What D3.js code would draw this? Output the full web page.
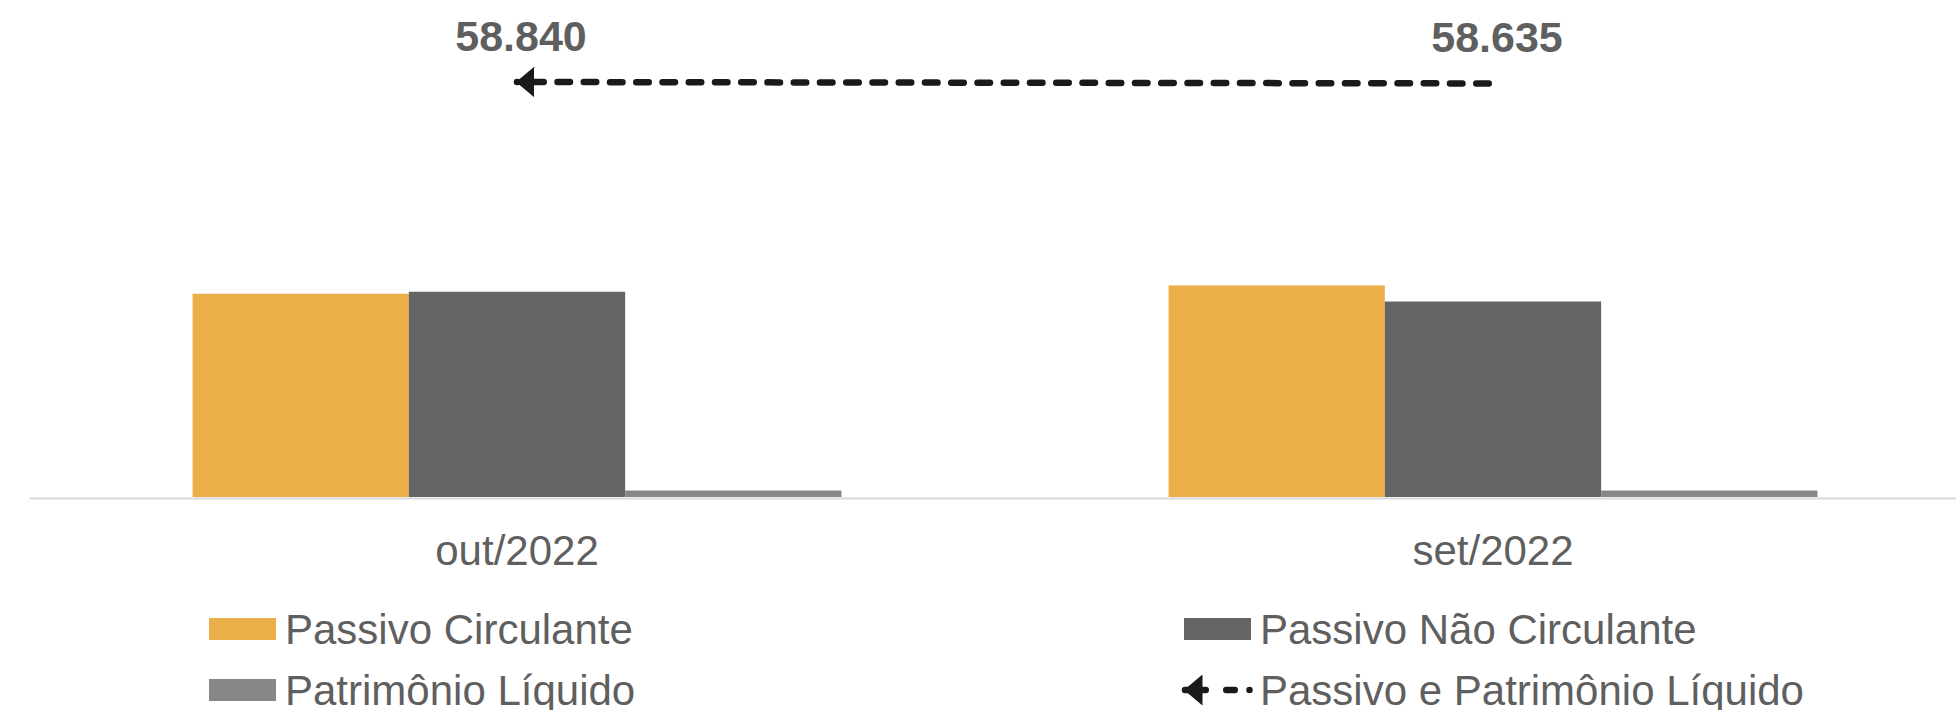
<!DOCTYPE html>
<html>
<head>
<meta charset="utf-8">
<script src="https://cdn.jsdelivr.net/npm/d3@7"></script>
<style>
  body { margin: 0; background: #fff; }
  text { font-family: "Liberation Sans", Arial, sans-serif; }
</style>
</head>
<body>
<div id="chart"></div>
<script>
// data
const categories = ["out/2022", "set/2022"];
const seriesNames = ["Passivo Circulante", "Passivo Não Circulante", "Patrimônio Líquido"];
const passivoCirculante = [28820, 30000];
const passivoNaoCirculante = [29100, 27715];
const patrimonioLiquido = [920, 920];
const totalPassivoPL = [58840, 58635];
const lineName = "Passivo e Patrimônio Líquido";

const colors = ["#EAAF48", "#646464", "#878787"];
const textColor = "#5f5f5f";
const lineColor = "#1a1a1a";

const width = 1956, height = 710;

const svg = d3.select("#chart")
    .append("svg")
    .attr("width", width)
    .attr("height", height);

const ptBR = d3.formatLocale({decimal: ",", thousands: ".", grouping: [3], currency: ["R$ ", ""]});
const fmt = ptBR.format(",.0f");

// scales
const x0 = d3.scaleBand()
    .domain(categories)
    .range([29, 1981])
    .padding(0);

const x1 = d3.scaleBand()
    .domain(seriesNames)
    .range([0, x0.bandwidth()])
    .paddingInner(0)
    .paddingOuter(0.756);

const baseY = 497;
const y = d3.scaleLinear()
    .domain([0, 60000])
    .range([baseY, baseY - 60000 * 415 / 58840]);

const rows = categories.map((c, i) => ({
    cat: c,
    values: [passivoCirculante[i], passivoNaoCirculante[i], patrimonioLiquido[i]]
}));

// bars
svg.append("g")
    .selectAll("g")
    .data(rows)
    .join("g")
    .attr("transform", d => `translate(${x0(d.cat)},0)`)
    .selectAll("rect")
    .data(d => d.values.map((v, j) => ({name: seriesNames[j], value: v, j: j})))
    .join("rect")
    .attr("x", d => x1(d.name))
    .attr("y", d => y(d.value))
    .attr("width", x1.bandwidth())
    .attr("height", d => y(0) - y(d.value))
    .attr("fill", d => colors[d.j]);

// baseline axis
const xAxis = svg.append("g")
    .attr("transform", `translate(0,${baseY + 1})`)
    .call(d3.axisBottom(x0).tickSize(0).tickPadding(37));
xAxis.select(".domain").attr("stroke", "#D9D9D9").attr("stroke-width", 2.2);
xAxis.selectAll("text")
    .attr("fill", textColor)
    .style("font-size", "42px")
    .style("font-family", "'Liberation Sans', Arial, sans-serif");

// arrow marker (at the start of the line)
const defs = svg.append("defs");
defs.append("marker")
    .attr("id", "arrowhead")
    .attr("markerUnits", "userSpaceOnUse")
    .attr("viewBox", "0 -15.5 18.5 31")
    .attr("refX", 17.5)
    .attr("refY", 0)
    .attr("markerWidth", 18.5)
    .attr("markerHeight", 31)
    .attr("orient", "auto-start-reverse")
    .append("path")
    .attr("d", "M0,-15.5L18.5,0L0,15.5Z")
    .attr("fill", lineColor);

// total line
const cx = c => x0(c) + x0.bandwidth() / 2;
const linePts = categories.map((c, i) => [cx(c), y(totalPassivoPL[i])]);
svg.append("path")
    .attr("d", d3.line()(linePts))
    .attr("fill", "none")
    .attr("stroke", lineColor)
    .attr("stroke-width", 6.5)
    .attr("stroke-linecap", "round")
    .attr("stroke-dasharray", "12.5 13.75")
    .attr("stroke-dashoffset", 12)
    .attr("marker-start", "url(#arrowhead)");

// value labels
svg.append("g")
    .selectAll("text")
    .data(categories)
    .join("text")
    .attr("x", c => cx(c) + 4)
    .attr("y", (c, i) => y(totalPassivoPL[i]) - 31)
    .attr("text-anchor", "middle")
    .attr("fill", textColor)
    .attr("font-size", "43px")
    .attr("font-weight", "bold")
    .text((c, i) => fmt(totalPassivoPL[i]));

// legend
const legendItems = [
    {name: seriesNames[0], type: "rect", color: colors[0], x: 209, y: 629},
    {name: seriesNames[1], type: "rect", color: colors[1], x: 1184, y: 629},
    {name: seriesNames[2], type: "rect", color: colors[2], x: 209, y: 690},
    {name: lineName, type: "line", x: 1184, y: 690}
];

const legend = svg.append("g");
legendItems.forEach(item => {
    const g = legend.append("g").attr("transform", `translate(${item.x},${item.y})`);
    if (item.type === "rect") {
        g.append("rect")
            .attr("x", 0)
            .attr("y", -11)
            .attr("width", 67)
            .attr("height", 22)
            .attr("fill", item.color);
    } else {
        g.append("path")
            .attr("d", "M1,0L66,0")
            .attr("fill", "none")
            .attr("stroke", lineColor)
            .attr("stroke-width", 6.5)
            .attr("stroke-linecap", "round")
            .attr("stroke-dasharray", "20.75 20.5 8.5 14.75 0 100")
            .attr("marker-start", "url(#arrowhead)");
    }
    g.append("text")
        .attr("x", 76)
        .attr("y", 15)
        .attr("fill", textColor)
        .attr("font-size", "42px")
        .text(item.name);
});
</script>
</body>
</html>
